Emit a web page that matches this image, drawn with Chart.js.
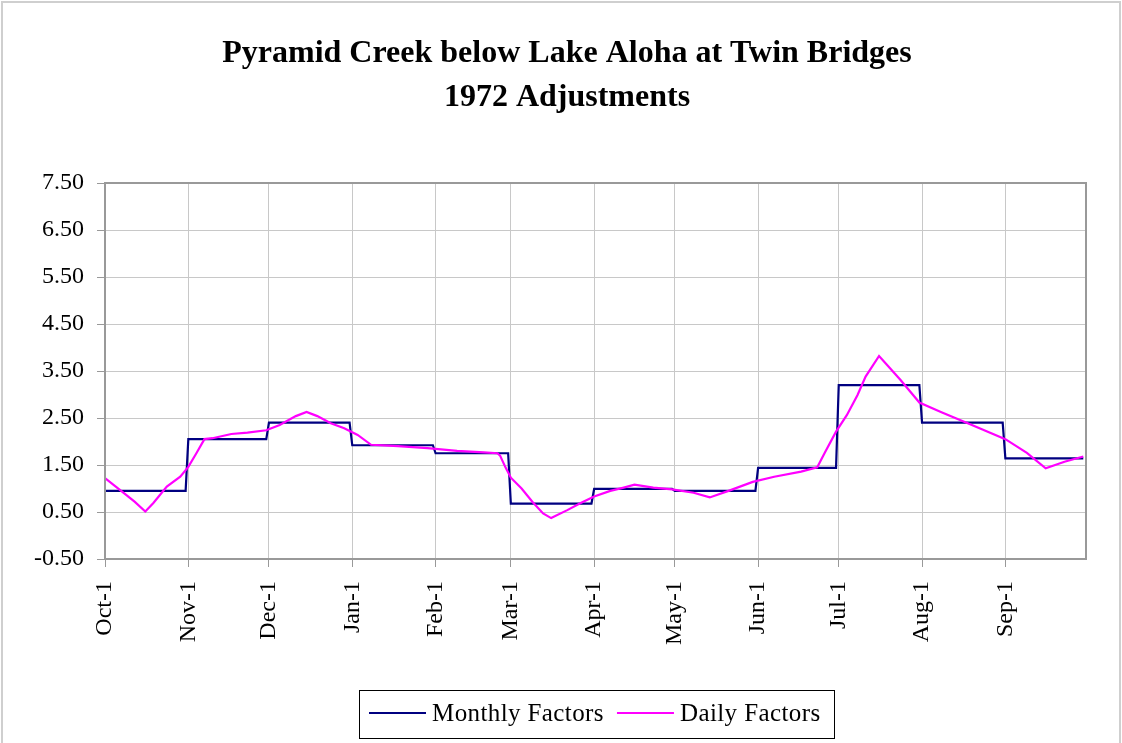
<!DOCTYPE html>
<html>
<head>
<meta charset="utf-8">
<script src="https://cdn.jsdelivr.net/npm/chart.js@4"></script>
<style>
  body { margin: 0; background: #fff; }
  #wrap { position: relative; width: 1122px; height: 743px; overflow: hidden; }
  #frame { position: absolute; left: 1px; top: 1px; width: 1116px; height: 800px; border: 2px solid #cfcfcf; pointer-events: none; }
  canvas { position: absolute; left: 0; top: 0; }
</style>
</head>
<body>
<div id="wrap">
  <canvas id="chart" width="1122" height="743"></canvas>
  <div id="frame"></div>
</div>
<script>
// Оси: дни от 1 октября (0) до 30 сентября (364)
const monthLabels = ['Oct-1', 'Nov-1', 'Dec-1', 'Jan-1', 'Feb-1', 'Mar-1', 'Apr-1', 'May-1', 'Jun-1', 'Jul-1', 'Aug-1', 'Sep-1'];
const monthStarts = [0, 31, 61, 92, 123, 151, 182, 212, 243, 273, 304, 335];
const lastDay = 364;
const yTickValues = [-0.5, 0.5, 1.5, 2.5, 3.5, 4.5, 5.5, 6.5, 7.5];

// Месячные коэффициенты
const monthlyFactors = [0.95, 2.05, 2.40, 1.92, 1.75, 0.68, 0.99, 0.95, 1.44, 3.20, 2.40, 1.64];

// Дневные коэффициенты (опорные точки)
const dailyDays = [0, 6, 11, 15, 18, 23, 28, 31, 34, 37, 40, 47, 53, 60, 65, 71, 75, 79, 84, 89, 94, 99, 109, 120, 131, 141, 146, 147, 149, 151, 155, 159, 163, 166, 172, 177, 182, 188, 193, 197, 204, 211, 219, 225, 232, 241, 249, 259, 265, 268, 272, 276, 280, 283, 288, 291, 296, 303, 311, 321, 335, 343, 350, 357, 364];
const dailyFactors = [1.22, 0.95, 0.72, 0.51, 0.69, 1.04, 1.25, 1.46, 1.75, 2.05, 2.07, 2.16, 2.19, 2.24, 2.35, 2.54, 2.63, 2.54, 2.39, 2.28, 2.14, 1.93, 1.90, 1.86, 1.80, 1.77, 1.75, 1.70, 1.45, 1.23, 1.00, 0.72, 0.47, 0.37, 0.54, 0.69, 0.83, 0.95, 1.02, 1.08, 1.02, 0.98, 0.91, 0.81, 0.95, 1.14, 1.25, 1.36, 1.45, 1.78, 2.21, 2.56, 2.99, 3.38, 3.82, 3.63, 3.31, 2.83, 2.63, 2.39, 2.05, 1.76, 1.43, 1.57, 1.68];

const seriesNames = ['Monthly Factors', 'Daily Factors'];
const seriesColors = ['#000080', '#ff00ff'];

const FONT = 'Liberation Serif';

// Ступеньки месячных значений: первый и последний день каждого месяца
const monthlyPoints = [];
monthStarts.forEach((start, i) => {
    const end = i + 1 < monthStarts.length ? monthStarts[i + 1] - 1 : lastDay;
    monthlyPoints.push({ x: start, y: monthlyFactors[i] });
    monthlyPoints.push({ x: end, y: monthlyFactors[i] });
});
const dailyPoints = dailyDays.map((d, i) => ({ x: d, y: dailyFactors[i] }));

// Заголовок чуть правее центра холста, как в оригинале
const titleShift = {
    id: 'titleShift',
    afterLayout(chart) {
        chart.titleBlock.left += 18;
        chart.titleBlock.right += 18;
    }
};

// Рамка области построения (верх и право)
const plotBorder = {
    id: 'plotBorder',
    afterDatasetsDraw(chart) {
        const { ctx, chartArea: a } = chart;
        ctx.save();
        ctx.strokeStyle = '#999999';
        ctx.lineWidth = 2;
        ctx.strokeRect(a.left, a.top, a.right - a.left, a.bottom - a.top);
        ctx.restore();
    }
};

// Легенда в рамке под графиком
const boxedLegend = {
    id: 'boxedLegend',
    afterDraw(chart) {
        const ctx = chart.ctx;
        ctx.save();
        ctx.font = '25px "' + FONT + '"';
        ctx.letterSpacing = '0.4px';
        const lineLen = 57, gapLine = 6, gapItem = 13, padL = 10, padR = 13;
        const widths = seriesNames.map(n => ctx.measureText(n).width);
        let total = padL + padR + gapItem * (seriesNames.length - 1);
        widths.forEach(w => total += lineLen + gapLine + w);
        const cx = 596, top = 690, h = 48;
        const left = Math.round(cx - total / 2);
        ctx.strokeStyle = '#000';
        ctx.lineWidth = 1;
        ctx.strokeRect(left + 0.5, top + 0.5, Math.round(total), h);
        let x = left + padL;
        const yMid = top + h / 2;
        seriesNames.forEach((name, i) => {
            ctx.strokeStyle = seriesColors[i];
            ctx.lineWidth = 2;
            ctx.beginPath();
            ctx.moveTo(x, yMid - 1);
            ctx.lineTo(x + lineLen, yMid - 1);
            ctx.stroke();
            x += lineLen + gapLine;
            ctx.fillStyle = '#000';
            ctx.textBaseline = 'middle';
            ctx.textAlign = 'left';
            ctx.fillText(name, x, yMid);
            x += widths[i] + gapItem;
        });
        ctx.restore();
    }
};

const ctx = document.getElementById('chart').getContext('2d');
new Chart(ctx, {
    type: 'line',
    data: {
        datasets: [{
            label: seriesNames[0],
            data: monthlyPoints,
            borderColor: seriesColors[0],
            borderWidth: 2.2,
            pointRadius: 0,
            tension: 0,
            order: 1
        }, {
            label: seriesNames[1],
            data: dailyPoints,
            borderColor: seriesColors[1],
            borderWidth: 2.2,
            pointRadius: 0,
            tension: 0,
            order: 0
        }]
    },
    options: {
        responsive: false,
        animation: false,
        layout: { padding: { top: 0, left: 12, right: 36, bottom: 94 } },
        plugins: {
            legend: { display: false },
            tooltip: { enabled: false },
            title: {
                display: true,
                text: ['Pyramid Creek below Lake Aloha at Twin Bridges', '1972 Adjustments'],
                color: '#000',
                font: { family: FONT, size: 32, weight: 'bold', lineHeight: 1.375 },
                padding: { top: 32, bottom: 63 }
            }
        },
        scales: {
            x: {
                type: 'linear',
                min: 0,
                max: 365,
                afterBuildTicks: scale => { scale.ticks = monthStarts.map(v => ({ value: v })); },
                afterFit: scale => { scale.height = 90; },
                grid: { color: '#c8c8c8', lineWidth: 1, tickLength: 8, tickColor: '#999999' },
                border: { color: '#999999', width: 2 },
                ticks: {
                    autoSkip: false,
                    minRotation: 90,
                    maxRotation: 90,
                    padding: 14,
                    color: '#000',
                    font: { family: FONT, size: 24 },
                    callback: value => monthLabels[monthStarts.indexOf(value)]
                }
            },
            y: {
                min: -0.5,
                max: 7.5,
                afterBuildTicks: scale => { scale.ticks = yTickValues.map(v => ({ value: v })); },
                afterFit: scale => { scale.width = 93; },
                grid: { color: '#c8c8c8', lineWidth: 1, tickLength: 8, tickColor: '#999999' },
                border: { color: '#999999', width: 2 },
                ticks: {
                    padding: 13,
                    color: '#000',
                    font: { family: FONT, size: 24 },
                    callback: value => value.toFixed(2)
                }
            }
        }
    },
    plugins: [titleShift, plotBorder, boxedLegend]
});
</script>
</body>
</html>
